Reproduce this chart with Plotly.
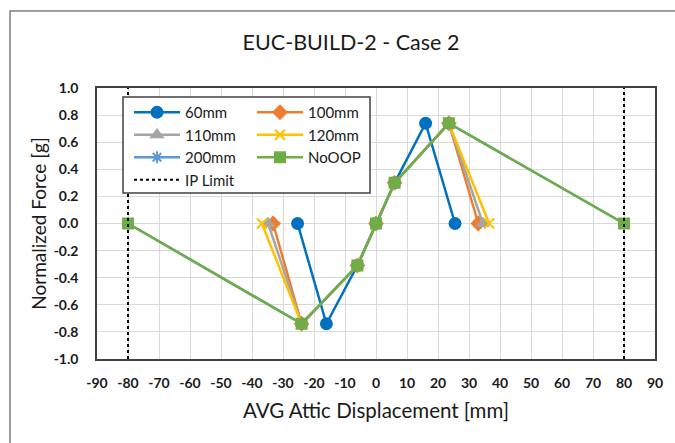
import plotly.graph_objects as go

# Data
x_60 = [-25.3, -16, -6, 0, 6, 16, 25.5]
y_60 = [0, -0.74, -0.31, 0, 0.30, 0.74, 0]
x_100 = [-33.2, -24, -6, 0, 6, 23.5, 33]
x_110 = [-34.8, -24, -6, 0, 6, 23.5, 34.5]
x_120 = [-36.8, -24, -6, 0, 6, 23.5, 36.5]
x_200 = [-80, -24, -6, 0, 6, 23.5, 80]
x_nooop = [-80, -24, -6, 0, 6, 23.5, 80]
y_common = [0, -0.74, -0.31, 0, 0.30, 0.74, 0]
ip_limit_x = [-80, 80]
ip_limit_y = [-1.0, 1.0]

x_ticks = list(range(-90, 91, 10))
y_ticks = [round(-1.0 + 0.2 * i, 1) for i in range(11)]

FONT = "Lato"

fig = go.Figure()

series = [
    ("60mm", x_60, y_60, "#0070C0", "circle", 11, "legend"),
    ("100mm", x_100, y_common, "#ED7D31", "diamond", 10, "legend2"),
    ("110mm", x_110, y_common, "#A5A5A5", "triangle-up", 10, "legend"),
    ("120mm", x_120, y_common, "#FFC000", "x-thin-open", 10, "legend2"),
    ("200mm", x_200, y_common, "#5B9BD5", "asterisk-open", 10, "legend"),
    ("NoOOP", x_nooop, y_common, "#70AD47", "square", 10, "legend2"),
]
for name, xs, ys, col, sym, sz, lg in series:
    fig.add_trace(go.Scatter(
        x=xs, y=ys, name=name, mode="lines+markers",
        line=dict(color=col, width=2.5),
        marker=dict(symbol=sym, size=sz, color=col, line=dict(color=col, width=2)),
        legend=lg, legendgroup=name, hoverinfo="skip",
    ))

ipx, ipy = [], []
for xv in ip_limit_x:
    ipx += [xv, xv, None]
    ipy += [ip_limit_y[0], ip_limit_y[1], None]
fig.add_trace(go.Scatter(
    x=ipx, y=ipy, name="IP Limit", mode="lines",
    line=dict(color="black", width=2, dash="dot"),
    legend="legend", legendgroup="ip", hoverinfo="skip",
))

L, R, T, B = 97, 20, 88, 84
W, H = 675, 443
pw = W - L - R
ph = H - T - B

def px(v):
    return (v - L) / pw

def py(v):
    return (H - B - v) / ph

# legend box
fig.add_shape(type="rect", xref="paper", yref="paper",
              x0=px(123), x1=px(370), y0=py(193), y1=py(97),
              fillcolor="white", line=dict(color="#404040", width=1.5), layer="above")
# outer chart border
fig.add_shape(type="rect", xref="paper", yref="paper",
              x0=px(10), x1=px(690), y0=py(460), y1=py(11),
              fillcolor="rgba(0,0,0,0)", line=dict(color="#7f7f7f", width=1.5), layer="below")

legend_common = dict(
    bgcolor="rgba(0,0,0,0)", borderwidth=0, font=dict(family=FONT, size=15, color="#1a1a1a"),
    orientation="v", xanchor="left", yanchor="top", tracegroupgap=0, itemwidth=46,
)
fig.update_layout(
    width=W, height=H,
    margin=dict(l=L, r=R, t=T, b=B),
    paper_bgcolor="white", plot_bgcolor="white",
    title=dict(text="EUC-BUILD-2 - Case 2", x=351 / W, xanchor="center",
               y=1 - 42 / H, yanchor="middle",
               font=dict(family=FONT, size=21.5, color="#1a1a1a")),
    legend=dict(x=px(129), y=py(96), **legend_common),
    legend2=dict(x=px(252), y=py(96), **legend_common),
    xaxis=dict(range=[-90, 90], tickvals=x_ticks, ticktext=[str(v) for v in x_ticks],
               showgrid=True, gridcolor="#D9D9D9", gridwidth=1, zeroline=False,
               showline=True, linecolor="#404040", linewidth=1.5, mirror=True, ticks="",
               ticklabelstandoff=10, automargin=False,
               tickfont=dict(family=FONT, size=14, color="#1a1a1a", weight="bold"),
               title=dict(text="AVG Attic Displacement [mm]", standoff=14,
                          font=dict(family=FONT, size=20.5, color="#1a1a1a"))),
    yaxis=dict(range=[-1.0, 1.0], tickvals=y_ticks, ticktext=[f"{v:.1f}" for v in y_ticks],
               showgrid=True, gridcolor="#D9D9D9", gridwidth=1, zeroline=False,
               showline=True, linecolor="#404040", linewidth=1.5, mirror=True, ticks="",
               ticklabelstandoff=14, automargin=False,
               tickfont=dict(family=FONT, size=14, color="#1a1a1a", weight="bold"),
               title=dict(text="Normalized Force [g]", standoff=2,
                          font=dict(family=FONT, size=19, color="#1a1a1a"))),
    hovermode=False,
)

fig.write_html("out.html", config={"displayModeBar": False},
               post_script="document.body.style.margin='0';document.body.style.overflow='hidden';")
